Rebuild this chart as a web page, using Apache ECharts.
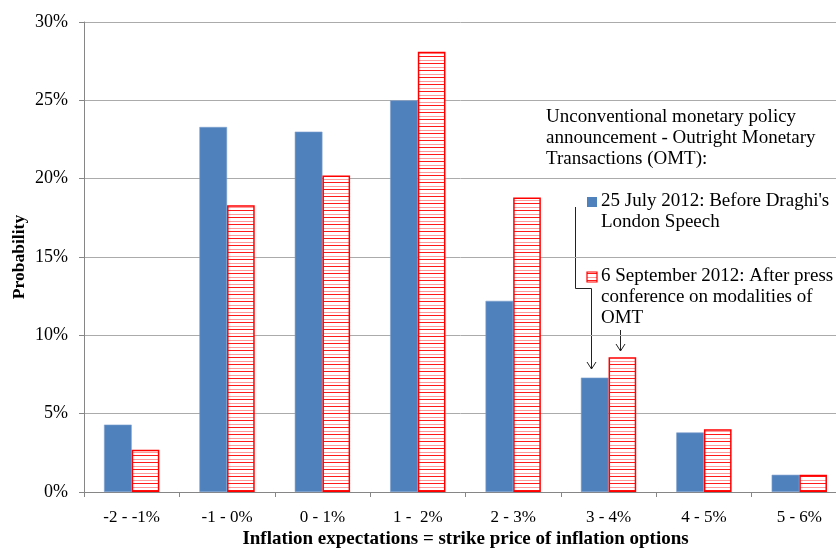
<!DOCTYPE html>
<html>
<head>
<meta charset="utf-8">
<script src="https://cdn.jsdelivr.net/npm/echarts@6/dist/echarts.min.js"></script>
<style>
  html, body { margin: 0; padding: 0; background: #fff; }
  #main { width: 836px; height: 549px; }
</style>
</head>
<body>
<div id="main"></div>
<script>
// strike price buckets
const categories = ['-2 - -1%', '-1 - 0%', '0 - 1%', '1 -  2%', '2 - 3%', '3 - 4%', '4 - 5%', '5 - 6%']
// probability (%) before Draghi's London speech
const julyValues = [4.3, 23.3, 23.0, 25.0, 12.2, 7.3, 3.8, 1.1]
// probability (%) after OMT press conference
const septValues = [2.7, 18.3, 20.2, 28.1, 18.8, 8.6, 4.0, 1.1]
const yTicks = [0, 5, 10, 15, 20, 25, 30]

const FONT = '"Liberation Serif", "Times New Roman", serif'

// narrow horizontal hatch like the excel pattern fill
function makeHatch () {
  const c = document.createElement('canvas')
  c.width = 4
  c.height = 7
  const ctx = c.getContext('2d')
  ctx.fillStyle = '#ffffff'
  ctx.fillRect(0, 0, 4, 7)
  ctx.fillStyle = '#ff1a1a'
  ctx.fillRect(0, 0, 4, 1)
  ctx.fillStyle = '#ff9a9a'
  ctx.fillRect(0, 4, 4, 1)
  return c
}
const hatch = makeHatch()

const myChart = echarts.init(document.getElementById('main'), null, { renderer: 'canvas' })

myChart.setOption({
  backgroundColor: '#fff',
  animation: false,
  textStyle: { fontFamily: FONT, color: '#000' },
  grid: {
    left: 84,
    top: 22,
    width: 763,
    height: 470,
    containLabel: false,
    outerBoundsMode: 'none'
  },
  xAxis: {
    type: 'category',
    data: categories,
    name: 'Inflation expectations = strike price of inflation options',
    nameLocation: 'middle',
    nameGap: 38,
    nameMoveOverlap: false,
    nameTextStyle: { fontFamily: FONT, fontSize: 19, fontWeight: 'bold', color: '#000' },
    axisLine: { lineStyle: { color: '#868686', width: 1 } },
    axisTick: { show: true, length: 5, lineStyle: { color: '#868686' } },
    axisLabel: { fontFamily: FONT, fontSize: 17, color: '#000', margin: 17 }
  },
  yAxis: {
    type: 'value',
    min: yTicks[0],
    max: yTicks[yTicks.length - 1],
    interval: 5,
    name: 'Probability',
    nameLocation: 'middle',
    nameGap: 56,
    nameMoveOverlap: false,
    nameTextStyle: { fontFamily: FONT, fontSize: 17.5, fontWeight: 'bold', color: '#000' },
    axisLine: { show: true, lineStyle: { color: '#868686', width: 1 } },
    axisTick: { show: true, length: 5, lineStyle: { color: '#868686' } },
    axisLabel: { fontFamily: FONT, fontSize: 18, color: '#000', margin: 16, formatter: '{value}%' },
    splitLine: { lineStyle: { color: '#ababab', width: 1 } }
  },
  series: [{
    name: "25 July 2012: Before Draghi's London Speech",
    type: 'bar',
    data: julyValues,
    barGap: '0%',
    barCategoryGap: '42%',
    itemStyle: { color: '#4f81bd', borderColor: '#7da0cf', borderWidth: 0.6 }
  }, {
    name: '6 September 2012: After press conference on modalities of OMT',
    type: 'bar',
    data: septValues,
    itemStyle: {
      color: { image: hatch, repeat: 'repeat' },
      borderColor: '#ff0000',
      borderWidth: 1.5
    }
  }],
  graphic: [
    {
      type: 'text',
      left: 546,
      top: 107,
      style: {
        text: 'Unconventional monetary policy\nannouncement - Outright Monetary\nTransactions (OMT):',
        font: '19px ' + FONT,
        lineHeight: 21,
        fill: '#000'
      }
    },
    {
      type: 'rect',
      shape: { x: 587, y: 197, width: 10, height: 10 },
      style: { fill: '#4f81bd' }
    },
    {
      type: 'text',
      left: 601,
      top: 191,
      style: {
        text: "25 July 2012: Before Draghi's\nLondon Speech",
        font: '19px ' + FONT,
        lineHeight: 21,
        fill: '#000'
      }
    },
    {
      type: 'rect',
      shape: { x: 587, y: 272, width: 10, height: 10 },
      style: { fill: { image: hatch, repeat: 'repeat' }, stroke: '#ff0000', lineWidth: 1.2 }
    },
    {
      type: 'text',
      left: 601,
      top: 266,
      style: {
        text: '6 September 2012: After press\nconference on modalities of\nOMT',
        font: '19px ' + FONT,
        lineHeight: 21,
        fill: '#000'
      }
    },
    // arrow to the july bar
    {
      type: 'polyline',
      shape: { points: [[575.5, 207], [575.5, 288.5], [591.5, 288.5], [591.5, 369]] },
      style: { stroke: '#222', lineWidth: 1, fill: null }
    },
    {
      type: 'polyline',
      shape: { points: [[587, 362], [591.5, 369], [596, 362]] },
      style: { stroke: '#222', lineWidth: 1, fill: null }
    },
    // arrow to the september bar
    {
      type: 'polyline',
      shape: { points: [[620.5, 330], [620.5, 351]] },
      style: { stroke: '#222', lineWidth: 1, fill: null }
    },
    {
      type: 'polyline',
      shape: { points: [[616, 344], [620.5, 351], [625, 344]] },
      style: { stroke: '#222', lineWidth: 1, fill: null }
    }
  ]
})
</script>
</body>
</html>
